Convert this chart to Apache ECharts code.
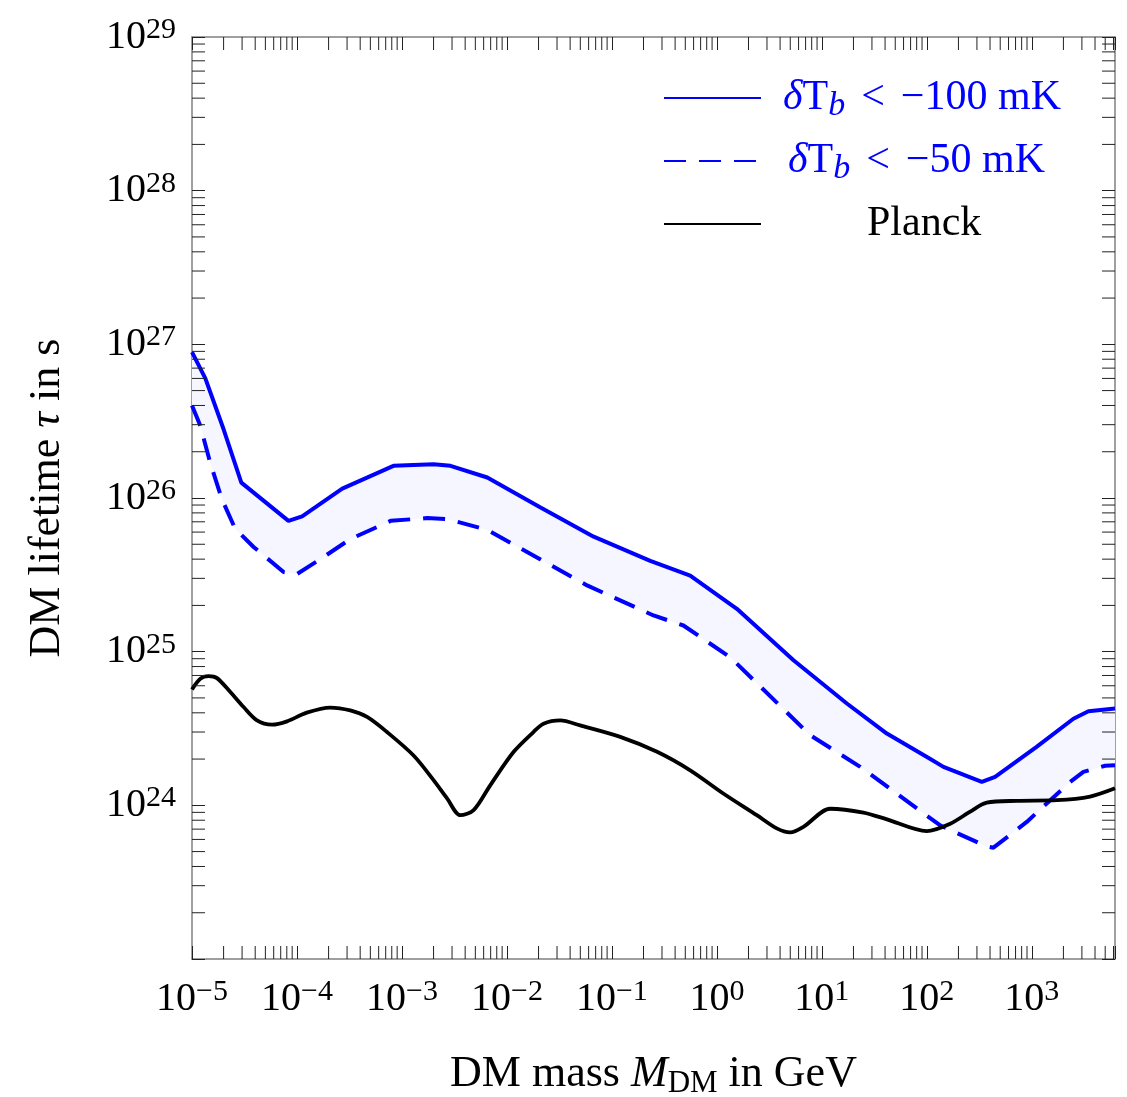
<!DOCTYPE html>
<html>
<head>
<meta charset="utf-8">
<script src="https://cdn.jsdelivr.net/npm/echarts@6/dist/echarts.min.js"></script>
<style>
  html, body { margin: 0; padding: 0; background: #fff; }
  #chart { width: 1127px; height: 1097px; }
</style>
</head>
<body>
<div id="chart"></div>
<script>
// axis ranges
var massMin = 1e-5, massMax = 6200;
var tauMin = 1e23, tauMax = 1e29;
var xDecades = [-5, -4, -3, -2, -1, 0, 1, 2, 3];
var yDecades = [23, 24, 25, 26, 27, 28];

// dTb < -100 mK (solid blue)
var mass100 = [1e-5, 1.34e-5, 2.0e-5, 2.95e-5, 8.3e-5, 1.12e-4, 2.7e-4, 8.3e-4, 2.0e-3, 2.9e-3, 6.5e-3,
  2.07e-2, 6.7e-2, 0.232, 0.557, 1.55, 5.37, 17.3, 41.6, 107, 144, 334, 447, 1110, 2490, 3460, 6200];
var tau100 = [8.9e26, 6.0e26, 2.8e26, 1.26e26, 7.1e25, 7.6e25, 1.15e26, 1.62e26, 1.66e26, 1.62e26, 1.36e26,
  8.7e25, 5.6e25, 3.9e25, 3.13e25, 1.9e25, 8.8e24, 4.6e24, 2.93e24, 2.01e24, 1.78e24, 1.42e24, 1.53e24, 2.4e24, 3.66e24, 4.1e24, 4.26e24];

// dTb < -50 mK (dashed blue)
var mass50 = [1e-5, 1.2e-5, 1.49e-5, 1.93e-5, 2.58e-5, 3.86e-5, 7.45e-5, 1.0e-4, 1.67e-4, 3.22e-4, 7.8e-4,
  1.73e-3, 2.69e-3, 6.5e-3, 2.07e-2, 5.8e-2, 0.249, 0.48, 1.34, 7.74, 23.2, 134, 372, 431, 895, 2320, 3100, 4990, 6200];
var tau50 = [4.0e26, 2.95e26, 1.7e26, 9.8e25, 6.3e25, 4.8e25, 3.3e25, 3.2e25, 4.0e25, 5.4e25, 7.1e25,
  7.4e25, 7.3e25, 6.2e25, 4.0e25, 2.7e25, 1.72e25, 1.48e25, 9.2e24, 2.86e24, 1.78e24, 7.4e23, 5.4e23, 5.3e23, 7.8e23, 1.42e24, 1.65e24, 1.81e24, 1.82e24];

// Planck
var massPlanck = [1e-5, 1.2e-5, 1.44e-5, 1.73e-5, 2.32e-5, 3.1e-5, 4.16e-5, 5.78e-5, 8.04e-5, 1.24e-4,
  2.07e-4, 3.22e-4, 4.65e-4, 7.2e-4, 1.29e-3, 2.0e-3, 2.69e-3, 3.6e-3, 4.82e-3, 6.93e-3,
  1.16e-2, 1.79e-2, 2.23e-2, 3.22e-2, 4.99e-2, 0.12, 0.269, 0.557, 1.16, 2.4,
  3.72, 4.99, 6.68, 12, 24.9, 41.7, 100, 167, 259, 372, 719, 1730, 3590, 6200];
var tauPlanck = [5.68e24, 6.67e24, 6.93e24, 6.73e24, 5.46e24, 4.36e24, 3.57e24, 3.35e24, 3.52e24, 4.01e24,
  4.33e24, 4.15e24, 3.76e24, 3.0e24, 2.11e24, 1.46e24, 1.11e24, 8.63e23, 9.3e23, 1.35e24,
  2.23e24, 3.0e24, 3.4e24, 3.57e24, 3.31e24, 2.79e24, 2.23e24, 1.69e24, 1.19e24, 8.63e23,
  7.08e23, 6.67e23, 7.25e23, 9.5e23, 8.97e23, 8.1e23, 6.8e23, 7.6e23, 9.1e23, 1.04e24, 1.07e24, 1.08e24, 1.14e24, 1.29e24];

var name100 = 'δTb < −100 mK', name50 = 'δTb < −50 mK', namePlanck = 'Planck';

var FONT = "'Liberation Serif', 'Times New Roman', serif";
var BLUE = '#0000ff';

function pairs(xs, ys) { return xs.map(function (x, i) { return [x, ys[i]]; }); }

// log minor ticks 2..9 per decade
var xMinor = [], yMinor = [];
xDecades.forEach(function (d) {
  for (var k = 2; k <= 9; k++) { var v = k * Math.pow(10, d); if (v < massMax) xMinor.push(v); }
});
yDecades.forEach(function (d) {
  for (var k = 2; k <= 9; k++) yMinor.push(k * Math.pow(10, d));
});

function powLabel(v) {
  var e = Math.log10(v), r = Math.round(e);
  if (Math.abs(e - r) > 1e-6) return '';
  return '{b|10}{s|' + String(r).replace('-', '−') + '}';
}
function yLabel(v) {
  // the bottom decade carries no label
  if (Math.round(Math.log10(v)) <= 23) return '';
  return powLabel(v);
}

var labelRich = {
  b: { fontFamily: FONT, fontSize: 40, lineHeight: 44, color: '#000' },
  s: { fontFamily: FONT, fontSize: 30, lineHeight: 30, verticalAlign: 'top', color: '#000' }
};

var TICK = 13;
var tickStyle = { stroke: '#222', lineWidth: 1 };

var chart = echarts.init(document.getElementById('chart'));
var option = {
  backgroundColor: '#fff',
  animation: false,
  grid: { left: 192, top: 37, right: 12, bottom: 138, outerBoundsMode: 'none', containLabel: false },
  legend: {
    orient: 'vertical', left: 658, top: 68,
    itemWidth: 97, itemHeight: 14, itemGap: 13,
    selectedMode: false,
    itemStyle: { opacity: 0 },
    data: [name100, name50, namePlanck],
    formatter: function (name) {
      if (name === name100) return '{s1|}{bi|δ}{b|T}{bs|b}{op|<}{b|−100 mK}';
      if (name === name50) return '{s2|}{bi|δ}{b|T}{bs|b}{op|<}{b|−50 mK}';
      return '{s3|}{k|Planck}';
    },
    textStyle: {
      fontFamily: FONT, fontSize: 42, lineHeight: 50,
      rich: {
        s1: { width: 17 }, s2: { width: 22 }, s3: { width: 101 },
        bi: { fontFamily: FONT, fontSize: 42, lineHeight: 50, fontStyle: 'italic', color: BLUE },
        b: { fontFamily: FONT, fontSize: 42, lineHeight: 50, color: BLUE },
        op: { fontFamily: FONT, fontSize: 42, lineHeight: 50, color: BLUE, padding: [0, 16, 0, 16] },
        bs: { fontFamily: FONT, fontSize: 34, lineHeight: 40, fontStyle: 'italic', verticalAlign: 'bottom', color: BLUE },
        k: { fontFamily: FONT, fontSize: 42, lineHeight: 50, color: '#000' }
      }
    }
  },
  xAxis: [{
    type: 'log', min: massMin, max: massMax, splitNumber: 9,
    name: '{r|DM mass }{i|M}{d|DM}{r| in GeV}',
    nameLocation: 'middle', nameGap: 90,
    nameTextStyle: {
      rich: {
        r: { fontFamily: FONT, fontSize: 44, lineHeight: 50, color: '#000' },
        i: { fontFamily: FONT, fontSize: 44, lineHeight: 50, fontStyle: 'italic', color: '#000' },
        d: { fontFamily: FONT, fontSize: 31, lineHeight: 36, verticalAlign: 'bottom', color: '#000' }
      }
    },
    axisLine: { lineStyle: { color: '#808080', width: 1.5 } },
    axisTick: { inside: true, length: TICK, lineStyle: { color: '#222', width: 1 } },
    axisLabel: { margin: 18, formatter: powLabel, rich: labelRich },
    splitLine: { show: false }
  }, {
    type: 'log', position: 'top', min: massMin, max: massMax, splitNumber: 9,
    axisLine: { lineStyle: { color: '#808080', width: 1.5 } },
    axisTick: { inside: true, length: TICK, lineStyle: { color: '#222', width: 1 } },
    axisLabel: { show: false },
    splitLine: { show: false }
  }],
  yAxis: [{
    type: 'log', min: tauMin, max: tauMax, splitNumber: 6,
    name: '{r|DM lifetime }{i|τ}{r| in s}',
    nameLocation: 'middle', nameGap: 120,
    nameTextStyle: {
      rich: {
        r: { fontFamily: FONT, fontSize: 44, lineHeight: 50, color: '#000' },
        i: { fontFamily: FONT, fontSize: 44, lineHeight: 50, fontStyle: 'italic', color: '#000' }
      }
    },
    axisLine: { lineStyle: { color: '#808080', width: 1.5 } },
    axisTick: { inside: true, length: TICK, lineStyle: { color: '#222', width: 1 } },
    axisLabel: { margin: 16, formatter: yLabel, rich: labelRich },
    splitLine: { show: false }
  }, {
    type: 'log', position: 'right', min: tauMin, max: tauMax, splitNumber: 6,
    axisLine: { lineStyle: { color: '#808080', width: 1.5 } },
    axisTick: { inside: true, length: TICK, lineStyle: { color: '#222', width: 1 } },
    axisLabel: { show: false },
    splitLine: { show: false }
  }],
  series: [
    {
      // band between the two blue curves
      type: 'custom', z: 1, silent: true,
      data: [[massMin, tauMin]],
      renderItem: function (params, api) {
        var pts = [];
        mass100.forEach(function (m, i) { pts.push(api.coord([m, tau100[i]])); });
        for (var i = mass50.length - 1; i >= 0; i--) pts.push(api.coord([mass50[i], tau50[i]]));
        return { type: 'polygon', shape: { points: pts }, style: { fill: '#f5f6ff' } };
      }
    },
    {
      name: name100, type: 'line', z: 3, symbol: 'none',
      data: pairs(mass100, tau100),
      lineStyle: { color: BLUE, width: 4 }, itemStyle: { color: BLUE }
    },
    {
      name: name50, type: 'line', z: 3, symbol: 'none',
      data: pairs(mass50, tau50),
      lineStyle: { color: BLUE, width: 4, type: [22, 13] }, itemStyle: { color: BLUE }
    },
    {
      name: namePlanck, type: 'line', z: 4, symbol: 'none', smooth: 0.3,
      data: pairs(massPlanck, tauPlanck),
      lineStyle: { color: '#000', width: 3.8 }, itemStyle: { color: '#000' }
    },
    {
      // minor log ticks on all four frame sides
      type: 'custom', z: 5, silent: true,
      data: [[massMin, tauMin]],
      renderItem: function (params, api) {
        var kids = [];
        xMinor.forEach(function (v) {
          var b = api.coord([v, tauMin]), t = api.coord([v, tauMax]);
          kids.push({ type: 'line', shape: { x1: b[0], y1: b[1], x2: b[0], y2: b[1] - TICK }, style: tickStyle });
          kids.push({ type: 'line', shape: { x1: t[0], y1: t[1], x2: t[0], y2: t[1] + TICK }, style: tickStyle });
        });
        yMinor.forEach(function (v) {
          var l = api.coord([massMin, v]), r = api.coord([massMax, v]);
          kids.push({ type: 'line', shape: { x1: l[0], y1: l[1], x2: l[0] + TICK, y2: l[1] }, style: tickStyle });
          kids.push({ type: 'line', shape: { x1: r[0], y1: r[1], x2: r[0] - TICK, y2: r[1] }, style: tickStyle });
        });
        return { type: 'group', children: kids };
      }
    }
  ]
};
chart.setOption(option);
</script>
</body>
</html>
